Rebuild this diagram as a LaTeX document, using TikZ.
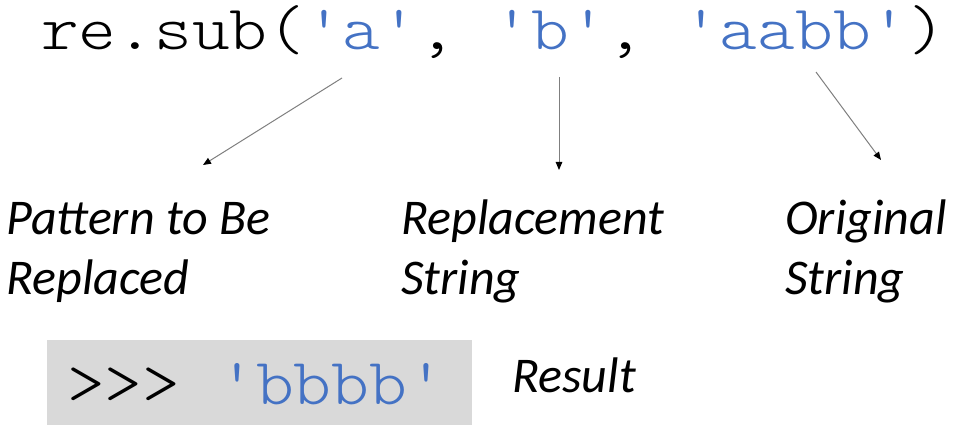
\documentclass[tikz,border=0pt]{standalone}
\usepackage{fontspec}
\usepackage{graphicx}
\setmainfont{Carlito}
\setmonofont{Latin Modern Mono Light}
\usetikzlibrary{arrows.meta}
\definecolor{codeblue}{HTML}{4472C4}
\definecolor{boxgray}{HTML}{D9D9D9}
\definecolor{linegray}{HTML}{7F7F7F}
\newcommand{\codewide}[2][1.09]{\scalebox{#1}[1]{#2}}
\tikzset{
  code/.style={inner sep=0pt, anchor=base west, font=\ttfamily\fontsize{66}{66}\selectfont},
  topcode/.style={inner sep=0pt, anchor=base west, font=\ttfamily\fontsize{63}{63}\selectfont},
  lbl/.style={inner sep=0pt, anchor=base west, font=\itshape\fontsize{50}{50}\selectfont},
  pointer/.style={draw=linegray, line width=1pt, -{Triangle[length=8pt,width=6.5pt,color=black,fill=black]}}
}
\begin{document}
\begin{tikzpicture}[x=1pt,y=-1pt]
\useasboundingbox (0,0) rectangle (959,430);
% top code line
\node[topcode] (call) at (41,50) {\codewide[1.14]{re.sub(\textcolor{codeblue}{'a'}, \textcolor{codeblue}{'b'}, \textcolor{codeblue}{'aabb'})}};
% arrow endpoints
\coordinate (s1) at (342,78);
\coordinate (e1) at (203,165);
\coordinate (s2) at (559,77);
\coordinate (e2) at (559,170);
\coordinate (s3) at (816,72);
\coordinate (e3) at (881,160);
\draw[pointer] (s1) -- (e1);
\draw[pointer] (s2) -- (e2);
\draw[pointer] (s3) -- (e3);
% labels
\node[lbl] (pat1) at (6,235) {Pattern to Be};
\node[lbl] (pat2) at (6,295) {Replaced};
\node[lbl] (rep1) at (401,235) {Replacement};
\node[lbl] (rep2) at (401,295) {String};
\node[lbl] (orig1) at (785,235) {Original};
\node[lbl] (orig2) at (785,295) {String};
% result box
\fill[boxgray] (47,340) rectangle (472,425);
\node[code] (res) at (67,405) {\codewide{>{}>{}> \textcolor{codeblue}{'bbbb'}}};
\node[lbl] (reslbl) at (512,392) {Result};
\end{tikzpicture}
\end{document}
